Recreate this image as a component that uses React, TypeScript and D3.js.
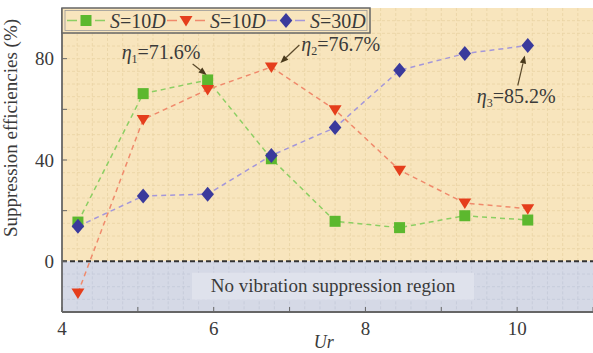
import React from "react";
import * as d3 from "d3";

// reduced velocity
const ur = [4.21, 5.07, 5.92, 6.76, 7.6, 8.45, 9.31, 10.14];
// suppression efficiencies (%)
const s10a = [15.5, 66.2, 71.6, 40.5, 15.8, 13.3, 18, 16.3];
const s10b = [-12.5, 56, 67.8, 76.7, 59.8, 36, 23, 20.8];
const s30 = [13.8, 25.8, 26.5, 41.8, 52.8, 75.4, 82, 85.2];

const xTicks = [4, 6, 8, 10];
const xMinor = [5, 7, 9, 11];
const yTicks = [0, 40, 80];
const yMinor = [-20, 20, 60];

const W = 593;
const H = 353;
const m = { left: 62, right: 0, top: 8, bottom: 41 };
const font = "Liberation Serif, DejaVu Serif, Times New Roman, serif";

const x = d3.scaleLinear().domain([4, 11]).range([m.left, W - m.right]);
const y = d3.scaleLinear().domain([-20, 100]).range([H - m.bottom, m.top]);

const series = [
  { name: "a", vals: s10a, line: "#8ccf63", fill: "#5cb82e", shape: "square", label: ["S", "=10", "D"] },
  { name: "b", vals: s10b, line: "#f08a6c", fill: "#e53e1c", shape: "tri", label: ["S", "=10", "D"] },
  { name: "c", vals: s30, line: "#a497da", fill: "#3a3a9c", shape: "diamond", label: ["S", "=30", "D"] },
];

const Marker = ({ shape, cx, cy, fill }: { shape: string; cx: number; cy: number; fill: string }) => {
  if (shape === "square") return <rect x={cx - 5.5} y={cy - 5.5} width={11} height={11} fill={fill} />;
  if (shape === "tri")
    return <path d={`M${cx - 6.5},${cy - 4.5}L${cx + 6.5},${cy - 4.5}L${cx},${cy + 6}Z`} fill={fill} />;
  return <path d={`M${cx},${cy - 7.5}L${cx + 6.3},${cy}L${cx},${cy + 7.5}L${cx - 6.3},${cy}Z`} fill={fill} />;
};

const T = (p: any) => <text fill="#3a3a3a" {...p} style={{ fontFamily: font, ...(p.style || {}) }} />;

const Eta = ({ tx, ty, sub, val }: { tx: number; ty: number; sub: string; val: string }) => (
  <T x={tx} y={ty} fontSize={20}>
    <tspan fontStyle="italic">η</tspan>
    <tspan fontSize={12} dy={4}>{sub}</tspan>
    <tspan dy={-4}>{val}</tspan>
  </T>
);

const Arrow = ({ x1, y1, x2, y2 }: { x1: number; y1: number; x2: number; y2: number }) => {
  const a = Math.atan2(y2 - y1, x2 - x1);
  const L = 8, w = 3.2;
  const bx = x2 - L * Math.cos(a), by = y2 - L * Math.sin(a);
  const px = -Math.sin(a) * w, py = Math.cos(a) * w;
  return (
    <g>
      <line x1={x1} y1={y1} x2={bx} y2={by} stroke="#5b4a2c" strokeWidth={1.2} />
      <path d={`M${x2},${y2}L${bx + px},${by + py}L${bx - px},${by - py}Z`} fill="#4a3a1c" />
    </g>
  );
};

export default function App() {
  const line = d3.line<number>().x((_, i) => x(ur[i])).y((d) => y(d));
  const gridX = d3.range(4.2, 11, 0.2);
  const gridY = d3.range(-15, 100, 5).filter((v) => v !== 0);
  const x0 = m.left, x1 = W - m.right, yTop = m.top, yBot = H - m.bottom;

  return (
    <svg width={W} height={H} style={{ position: "absolute", left: 0, top: 0, background: "#fff" }}>
      {/* background regions */}
      <rect x={x0} y={yTop} width={x1 - x0} height={y(0) - yTop} fill="#f8e5bd" />
      <rect x={x0} y={y(0)} width={x1 - x0} height={yBot - y(0)} fill="#d5d9e6" />
      {/* faint grid */}
      {gridX.map((v) => (
        <g key={"gx" + v}>
          <line x1={x(v)} x2={x(v)} y1={yTop} y2={y(0)} stroke="#e9d3a3" strokeWidth={0.8} strokeDasharray="3,2" />
          <line x1={x(v)} x2={x(v)} y1={y(0)} y2={yBot} stroke="#c4c9d8" strokeWidth={0.8} strokeDasharray="3,2" />
        </g>
      ))}
      {gridY.map((v) => (
        <line key={"gy" + v} x1={x0} x2={x1} y1={y(v)} y2={y(v)}
          stroke={v > 0 ? "#e9d3a3" : "#c4c9d8"} strokeWidth={0.8} strokeDasharray="3,2" />
      ))}
      {/* no suppression label */}
      <rect x={192} y={y(-4.5)} width={282} height={27} fill="#dfe2ec" />
      <T x={333} y={y(-12)} textAnchor="middle" fontSize={19}>
        No vibration suppression region
      </T>
      {/* zero line */}
      <line x1={x0} x2={x1} y1={y(0)} y2={y(0)} stroke="#333" strokeWidth={2} strokeDasharray="5,3" />
      {/* series */}
      {series.map((s) => (
        <path key={s.name} d={line(s.vals) || ""} fill="none" stroke={s.line} strokeWidth={1.5} strokeDasharray="5,4" />
      ))}
      {series.map((s) =>
        s.vals.map((v, i) => <Marker key={s.name + i} shape={s.shape} cx={x(ur[i])} cy={y(v)} fill={s.fill} />)
      )}
      {/* annotations */}
      <Eta tx={x(ur[2]) - 86} ty={y(s10a[2]) - 21} sub="1" val="=71.6%" />
      <Arrow x1={x(ur[2]) - 15} y1={y(s10a[2]) - 16} x2={x(ur[2]) - 1} y2={y(s10a[2]) - 5} />
      <Eta tx={x(ur[3]) + 30} ty={y(s10b[3]) - 16} sub="2" val="=76.7%" />
      <Arrow x1={x(ur[3]) + 28} y1={y(s10b[3]) - 22} x2={x(ur[3]) + 9} y2={y(s10b[3]) - 4} />
      <Eta tx={x(ur[7]) - 51} ty={y(s30[7]) + 58} sub="3" val="=85.2%" />
      <Arrow x1={x(ur[7]) - 10} y1={y(s30[7]) + 40} x2={x(ur[7]) - 3} y2={y(s30[7]) + 10} />
      {/* axes */}
      <line x1={x0} x2={x0} y1={yTop} y2={yBot} stroke="#666" strokeWidth={1.8} />
      <line x1={x0} x2={x1} y1={yBot} y2={yBot} stroke="#666" strokeWidth={1.8} />
      {[...yTicks, ...yMinor].map((v) => (
        <line key={"yt" + v} x1={x0} x2={x0 + 5} y1={y(v)} y2={y(v)} stroke="#666" strokeWidth={1} />
      ))}
      {[...xTicks, ...xMinor].map((v) => (
        <line key={"xt" + v} x1={x(v)} x2={x(v)} y1={yBot} y2={yBot - 5} stroke="#666" strokeWidth={1} />
      ))}
      {yTicks.map((v) => (
        <T key={"yl" + v} x={x0 - 8} y={y(v) + 6.5} textAnchor="end" fontSize={19}>
          {v}
        </T>
      ))}
      {xTicks.map((v) => (
        <T key={"xl" + v} x={x(v)} y={335} textAnchor="middle" fontSize={19}>
          {v}
        </T>
      ))}
      <T x={x(7.45)} y={348} textAnchor="middle" fontSize={18} fontStyle="italic">
        Ur
      </T>
      <T transform={`translate(17,${(yTop + yBot) / 2 - 32}) rotate(-90)`} textAnchor="middle" fontSize={19}>
        Suppression efficiencies (%)
      </T>
      {/* legend */}
      <rect x={x0} y={yTop} width={308} height={25} fill="#f8e5bd" stroke="#666" strokeWidth={1.5} />
      <rect x={x0 + 3} y={yTop + 2.5} width={302} height={20} fill="none" stroke="#999" strokeWidth={0.8} />
      {series.map((s, i) => {
        const lx = x0 + 5 + i * 100;
        const cy = yTop + 12.5;
        return (
          <g key={"lg" + s.name}>
            <line x1={lx} x2={lx + 10} y1={cy} y2={cy} stroke={s.line} strokeWidth={1.5} />
            <line x1={lx + 28} x2={lx + 38} y1={cy} y2={cy} stroke={s.line} strokeWidth={1.5} />
            <Marker shape={s.shape} cx={lx + 19} cy={cy} fill={s.fill} />
            <T x={lx + 43} y={cy + 7} fontSize={20}>
              <tspan fontStyle="italic">{s.label[0]}</tspan>
              <tspan>{s.label[1]}</tspan>
              <tspan fontStyle="italic">{s.label[2]}</tspan>
            </T>
          </g>
        );
      })}
    </svg>
  );
}
